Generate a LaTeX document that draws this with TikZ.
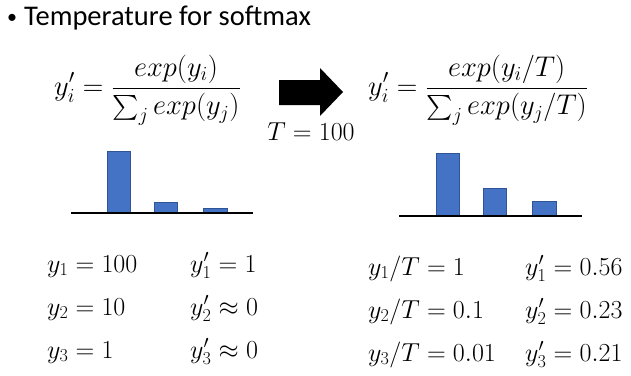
\RequirePackage{fix-cm}
\documentclass[tikz,border=0pt]{standalone}
\usepackage{exscale}
\usepackage{fontspec}
\setmainfont{Carlito}
\definecolor{barblue}{HTML}{4472C4}
\definecolor{bardark}{HTML}{2F5597}
\tikzset{
  titletext/.style={anchor=base west, inner sep=0pt, font=\fontsize{28.5}{34}\selectfont},
  formula/.style={anchor=west, inner sep=0pt, font=\fontsize{28.5}{33}\selectfont},
  rowtext/.style={anchor=base west, inner sep=0pt, font=\fontsize{26}{30}\selectfont},
  bar/.style={fill=barblue, draw=bardark, line width=0.6pt},
  axisline/.style={line width=2.4pt, black},
}
\begin{document}
\begin{tikzpicture}[x=1pt,y=-1pt]
\useasboundingbox (0,0) rectangle (631,375);
% title
\node[titletext, font=\fontsize{20}{24}\selectfont] (bullet) at (7,23) {•};
\node[titletext] (title) at (24,25) {Temperature for softmax};
% formulas
\node[formula] (f1) at (54,90) {$\displaystyle y'_i = \frac{exp(y_i)}{\sum_j exp(y_j)}$};
\node[formula] (f2) at (368,90) {$\displaystyle y'_i = \frac{exp(y_i/T)}{\sum_j exp(y_j/T)}$};
% arrow
\fill[black] (279,80) -- (320,80) -- (320,68) -- (343,92) -- (320,116) -- (320,105) -- (279,105) -- cycle;
\node[rowtext, anchor=base] (tlabel) at (311,140) {$T = 100$};
% left bars
\draw[bar] (107,213) rectangle (130,151);
\draw[bar] (154,213) rectangle (177,202);
\draw[bar] (203,213) rectangle (227,208);
\draw[axisline] (71,213) -- (253,213);
% right bars
\draw[bar] (436,216) rectangle (459,153);
\draw[bar] (483,216) rectangle (506,188);
\draw[bar] (532,216) rectangle (556,201);
\draw[axisline] (399,216) -- (582,216);
% left rows
\node[rowtext] (l11) at (47,272) {$y_1 = 100$};
\node[rowtext] (l21) at (47,315) {$y_2 = 10$};
\node[rowtext] (l31) at (47,358) {$y_3 = 1$};
\node[rowtext] (l12) at (190,272) {$y'_1 = 1$};
\node[rowtext] (l22) at (190,315) {$y'_2 \approx 0$};
\node[rowtext] (l32) at (190,358) {$y'_3 \approx 0$};
% right rows
\node[rowtext] (r11) at (368,275) {$y_1/T = 1$};
\node[rowtext] (r21) at (368,318) {$y_2/T = 0.1$};
\node[rowtext] (r31) at (368,361) {$y_3/T = 0.01$};
\node[rowtext] (r12) at (525,275) {$y'_1 = 0.56$};
\node[rowtext] (r22) at (525,318) {$y'_2 = 0.23$};
\node[rowtext] (r32) at (525,361) {$y'_3 = 0.21$};
\end{tikzpicture}
\end{document}
